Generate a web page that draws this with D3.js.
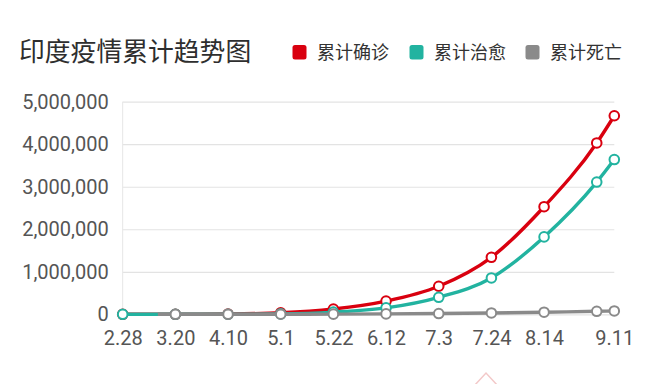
<!DOCTYPE html>
<html>
<head>
<meta charset="utf-8">
<script src="https://cdn.jsdelivr.net/npm/d3@7"></script>
<style>
  body { margin: 0; background: #fff; }
  svg { display: block; }
</style>
</head>
<body>
<svg id="chart" width="660" height="384"></svg>
<script>
// dates with a marker on them (2020)
var markerDates = ["2020-02-28", "2020-03-20", "2020-04-10", "2020-05-01", "2020-05-22", "2020-06-12",
                   "2020-07-03", "2020-07-24", "2020-08-14", "2020-09-04", "2020-09-11"];
// tick labels on the x axis (9.4 is skipped, too close to 9.11)
var tickDates = ["2020-02-28", "2020-03-20", "2020-04-10", "2020-05-01", "2020-05-22", "2020-06-12",
                 "2020-07-03", "2020-07-24", "2020-08-14", "2020-09-11"];

var confirmed = [3, 250, 7600, 35000, 124000, 310000, 660000, 1340000, 2530000, 4030000, 4670000];
var recovered = [3, 23, 650, 9000, 51000, 152000, 400000, 855000, 1820000, 3110000, 3640000];
// deaths start on 3.13 (first death), no marker on that day
var deathDates = ["2020-03-13", "2020-03-20", "2020-04-10", "2020-05-01", "2020-05-22", "2020-06-12",
                  "2020-07-03", "2020-07-24", "2020-08-14", "2020-09-04", "2020-09-11"];
var deaths = [1, 5, 240, 1150, 3600, 8900, 18200, 32000, 49000, 70000, 79000];

var yTicks = [0, 1000000, 2000000, 3000000, 4000000, 5000000];

var seriesNames = ["累计确诊", "累计治愈", "累计死亡"];
var colors = ["#d9000f", "#22b3a0", "#8a8a8a"];

var parse = d3.timeParse("%Y-%m-%d");

var series = [
  { name: seriesNames[0], color: colors[0], pts: markerDates.map(function(d, i) { return { date: parse(d), v: confirmed[i] }; }) },
  { name: seriesNames[1], color: colors[1], pts: markerDates.map(function(d, i) { return { date: parse(d), v: recovered[i] }; }) },
  { name: seriesNames[2], color: colors[2], pts: deathDates.map(function(d, i) { return { date: parse(d), v: deaths[i] }; }) }
];

var svg = d3.select("#chart"),
    plotLeft = 122.7, plotRight = 614.3, plotTop = 101.7, plotBottom = 314.3;

var x = d3.scaleTime()
    .domain([parse(markerDates[0]), parse(markerDates[markerDates.length - 1])])
    .range([plotLeft, plotRight]);

var y = d3.scaleLinear()
    .domain([0, 5000000])
    .range([plotBottom, plotTop]);

// title
svg.append("text")
    .attr("x", 19).attr("y", 61)
    .attr("fill", "#2e2e2e")
    .style("font-family", "'Noto Sans CJK SC', sans-serif")
    .style("font-size", "25.8px")
    .text("印度疫情累计趋势图");

// legend
var legendX = [292.5, 409.5, 525.5];
var lg = svg.selectAll(".legend")
    .data(series)
    .enter().append("g")
    .attr("class", "legend")
    .attr("transform", function(d, i) { return "translate(" + legendX[i] + ",45)"; });
lg.append("rect")
    .attr("width", 14).attr("height", 14.5)
    .attr("rx", 2.5)
    .attr("fill", function(d) { return d.color; });
lg.append("text")
    .attr("x", 24.5).attr("y", 13.8)
    .attr("fill", "#333")
    .style("font-family", "'Noto Sans CJK SC', sans-serif")
    .style("font-size", "18px")
    .text(function(d) { return d.name; });

// grid + y axis labels
var yAxis = svg.append("g")
    .attr("transform", "translate(" + plotLeft + ",0)")
    .call(d3.axisLeft(y).tickValues(yTicks).tickSize(-(plotRight - plotLeft)).tickPadding(14)
        .tickFormat(d3.format(",")));
yAxis.select(".domain").remove();
yAxis.selectAll(".tick line").attr("stroke", "#e3e3e3").attr("stroke-width", 1.2);
yAxis.selectAll(".tick text")
    .attr("fill", "#555")
    .style("font-family", "Roboto, sans-serif")
    .style("font-size", "20px");

svg.append("line")
    .attr("x1", plotLeft).attr("x2", plotLeft)
    .attr("y1", plotTop).attr("y2", plotBottom)
    .attr("stroke", "#e6e6e6").attr("stroke-width", 1);

// x axis labels
var xAxis = svg.append("g")
    .attr("transform", "translate(0," + plotBottom + ")")
    .call(d3.axisBottom(x).tickValues(tickDates.map(parse)).tickSize(0).tickPadding(17)
        .tickFormat(d3.timeFormat("%-m.%-d")));
xAxis.select(".domain").remove();
xAxis.selectAll(".tick text")
    .attr("fill", "#555")
    .style("font-family", "Roboto, sans-serif")
    .style("font-size", "20px");

// lines
var line = d3.line()
    .x(function(d) { return x(d.date); })
    .y(function(d) { return y(d.v); })
    .curve(d3.curveMonotoneX);

var markerSet = markerDates.join(",");
var fmtKey = d3.timeFormat("%Y-%m-%d");

var sg = svg.selectAll(".series")
    .data(series)
    .enter().append("g")
    .attr("class", "series");

sg.append("path")
    .attr("d", function(d) { return line(d.pts); })
    .attr("fill", "none")
    .attr("stroke", function(d) { return d.color; })
    .attr("stroke-width", 3.4)
    .attr("stroke-linejoin", "round");

sg.each(function(s) {
  d3.select(this).selectAll("circle")
    .data(s.pts.filter(function(p) { return markerSet.indexOf(fmtKey(p.date)) >= 0; }))
    .enter().append("circle")
    .attr("cx", function(d) { return x(d.date); })
    .attr("cy", function(d) { return y(d.v); })
    .attr("r", 4.8)
    .attr("fill", "#fff")
    .attr("stroke", s.color)
    .attr("stroke-width", 2);
});

// faint watermark corner at the bottom
svg.append("path")
    .attr("d", "M474,386 L486,373 L498,386")
    .attr("fill", "none")
    .attr("stroke", "#f3c9c9")
    .attr("stroke-width", 1.5);
</script>
</body>
</html>
